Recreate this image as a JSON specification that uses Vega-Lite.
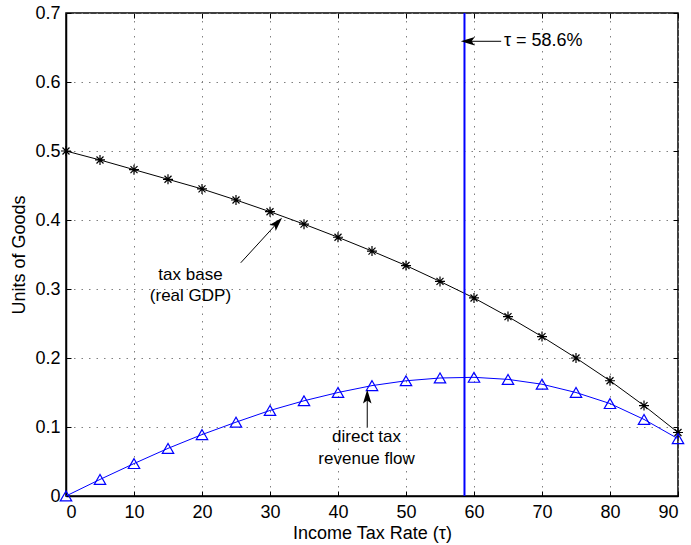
{
  "$schema": "https://vega.github.io/schema/vega-lite/v6.json",
  "width": 612,
  "height": 483,
  "autosize": {"type": "none"},
  "padding": {"left": 66, "top": 13, "right": 13, "bottom": 49},
  "background": "white",
  "config": {
    "view": {"stroke": "black", "strokeWidth": 1.5},
    "font": "Liberation Sans",
    "axis": {
      "domainColor": "black", "domainWidth": 1.5,
      "tickColor": "black", "tickSize": -5, "tickWidth": 1,
      "labelFont": "Liberation Sans", "labelFontSize": 18, "labelColor": "black",
      "titleFont": "Liberation Sans", "titleFontSize": 18, "titleFontWeight": "normal", "titleColor": "black",
      "grid": true, "gridColor": "#808080", "gridDash": [1.5, 6], "gridWidth": 1
    }
  },
  "resolve": {"axis": {"x": "independent", "y": "independent"}},
  "datasets": {
    "curves": [
      {"tau": 0, "base": 0.5, "revenue": 0.0},
      {"tau": 5, "base": 0.487, "revenue": 0.024},
      {"tau": 10, "base": 0.473, "revenue": 0.047},
      {"tau": 15, "base": 0.459, "revenue": 0.069},
      {"tau": 20, "base": 0.445, "revenue": 0.089},
      {"tau": 25, "base": 0.429, "revenue": 0.107},
      {"tau": 30, "base": 0.412, "revenue": 0.124},
      {"tau": 35, "base": 0.394, "revenue": 0.138},
      {"tau": 40, "base": 0.375, "revenue": 0.150},
      {"tau": 45, "base": 0.355, "revenue": 0.160},
      {"tau": 50, "base": 0.334, "revenue": 0.167},
      {"tau": 55, "base": 0.311, "revenue": 0.171},
      {"tau": 60, "base": 0.287, "revenue": 0.172},
      {"tau": 65, "base": 0.260, "revenue": 0.169},
      {"tau": 70, "base": 0.231, "revenue": 0.162},
      {"tau": 75, "base": 0.200, "revenue": 0.150},
      {"tau": 80, "base": 0.167, "revenue": 0.134},
      {"tau": 85, "base": 0.131, "revenue": 0.111},
      {"tau": 90, "base": 0.092, "revenue": 0.083}
    ],
    "optimum": [{"tau": 58.6}],
    "arrowTau": [{"x": 64.0, "y": 0.659, "x2": 59.2, "y2": 0.659}],
    "arrowBase": [{"x": 25.7, "y": 0.338, "x2": 31.0, "y2": 0.395}],
    "arrowRev": [{"x": 44.3, "y": 0.1, "x2": 44.3, "y2": 0.143}],
    "labelsLeft": [{"x": 64.4, "y": 0.659, "text": "τ = 58.6%"}],
    "labelsCenter": [
      {"x": 18.3, "y": 0.321, "text": "tax base"},
      {"x": 18.3, "y": 0.290, "text": "(real GDP)"},
      {"x": 44.2, "y": 0.085, "text": "direct tax"},
      {"x": 44.2, "y": 0.053, "text": "revenue flow"}
    ]
  },
  "layer": [
    {
      "data": {"name": "curves"},
      "mark": {"type": "line", "color": "black", "strokeWidth": 1},
      "encoding": {
        "x": {"field": "tau", "type": "quantitative", "scale": {"domain": [0, 90], "nice": false},
              "axis": {"title": "Income Tax Rate (τ)", "values": [0,10,20,30,40,50,60,70,80,90], "labelPadding": 12, "titlePadding": 3}},
        "y": {"field": "base", "type": "quantitative", "scale": {"domain": [0, 0.7], "nice": false},
              "axis": {"title": "Units of Goods", "values": [0,0.1,0.2,0.3,0.4,0.5,0.6,0.7], "format": ".1~f", "labelPadding": 11, "titlePadding": 6}}
      }
    },
    {
      "data": {"name": "curves"},
      "mark": {"type": "point", "shape": "M -1 0 L 1 0 M 0 -1 L 0 1 M -0.7 -0.7 L 0.7 0.7 M -0.7 0.7 L 0.7 -0.7", "filled": false, "stroke": "black", "strokeWidth": 1.2, "size": 100, "opacity": 1},
      "encoding": {
        "x": {"field": "tau", "type": "quantitative", "axis": {"orient": "top", "title": null, "labels": false, "grid": false, "domain": false, "values": [0,10,20,30,40,50,60,70,80,90]}},
        "y": {"field": "base", "type": "quantitative", "axis": {"orient": "right", "title": null, "labels": false, "grid": false, "domain": false, "values": [0,0.1,0.2,0.3,0.4,0.5,0.6,0.7]}}
      }
    },
    {
      "data": {"name": "curves"},
      "mark": {"type": "line", "color": "#0000ff", "strokeWidth": 1},
      "encoding": {
        "x": {"field": "tau", "type": "quantitative", "axis": null},
        "y": {"field": "revenue", "type": "quantitative", "axis": null}
      }
    },
    {
      "data": {"name": "curves"},
      "mark": {"type": "point", "shape": "triangle-up", "filled": false, "stroke": "#0000ff", "strokeWidth": 1.2, "size": 130, "opacity": 1},
      "encoding": {
        "x": {"field": "tau", "type": "quantitative", "axis": null},
        "y": {"field": "revenue", "type": "quantitative", "axis": null}
      }
    },
    {
      "data": {"name": "optimum"},
      "mark": {"type": "rule", "color": "#0000ff", "strokeWidth": 2},
      "encoding": {"x": {"field": "tau", "type": "quantitative", "axis": null}}
    },
    {
      "data": {"name": "arrowTau"},
      "mark": {"type": "rule", "color": "black", "strokeWidth": 1},
      "encoding": {"x": {"field": "x", "type": "quantitative", "axis": null}, "y": {"field": "y", "type": "quantitative", "axis": null}, "x2": {"field": "x2"}, "y2": {"field": "y2"}}
    },
    {
      "data": {"name": "arrowTau"},
      "mark": {"type": "point", "shape": "M 0 -1 L 0.55 0.8 L 0 0.4 L -0.55 0.8 Z", "filled": true, "color": "black", "size": 240, "angle": 270, "opacity": 1},
      "encoding": {"x": {"field": "x2", "type": "quantitative", "axis": null}, "y": {"field": "y2", "type": "quantitative", "axis": null}}
    },
    {
      "data": {"name": "arrowBase"},
      "mark": {"type": "rule", "color": "black", "strokeWidth": 1},
      "encoding": {"x": {"field": "x", "type": "quantitative", "axis": null}, "y": {"field": "y", "type": "quantitative", "axis": null}, "x2": {"field": "x2"}, "y2": {"field": "y2"}}
    },
    {
      "data": {"name": "arrowBase"},
      "mark": {"type": "point", "shape": "M 0 -1 L 0.55 0.8 L 0 0.4 L -0.55 0.8 Z", "filled": true, "color": "black", "size": 240, "angle": 43, "opacity": 1},
      "encoding": {"x": {"field": "x2", "type": "quantitative", "axis": null}, "y": {"field": "y2", "type": "quantitative", "axis": null}}
    },
    {
      "data": {"name": "arrowRev"},
      "mark": {"type": "rule", "color": "black", "strokeWidth": 1},
      "encoding": {"x": {"field": "x", "type": "quantitative", "axis": null}, "y": {"field": "y", "type": "quantitative", "axis": null}, "x2": {"field": "x2"}, "y2": {"field": "y2"}}
    },
    {
      "data": {"name": "arrowRev"},
      "mark": {"type": "point", "shape": "M 0 -1 L 0.55 0.8 L 0 0.4 L -0.55 0.8 Z", "filled": true, "color": "black", "size": 240, "angle": 0, "opacity": 1},
      "encoding": {"x": {"field": "x2", "type": "quantitative", "axis": null}, "y": {"field": "y2", "type": "quantitative", "axis": null}}
    },
    {
      "data": {"name": "labelsLeft"},
      "mark": {"type": "text", "align": "left", "baseline": "middle", "fontSize": 18, "font": "Liberation Sans", "color": "black"},
      "encoding": {"x": {"field": "x", "type": "quantitative", "axis": null}, "y": {"field": "y", "type": "quantitative", "axis": null}, "text": {"field": "text"}}
    },
    {
      "data": {"name": "labelsCenter"},
      "mark": {"type": "text", "align": "center", "baseline": "middle", "fontSize": 17, "font": "Liberation Sans", "color": "black"},
      "encoding": {"x": {"field": "x", "type": "quantitative", "axis": null}, "y": {"field": "y", "type": "quantitative", "axis": null}, "text": {"field": "text"}}
    }
  ]
}
